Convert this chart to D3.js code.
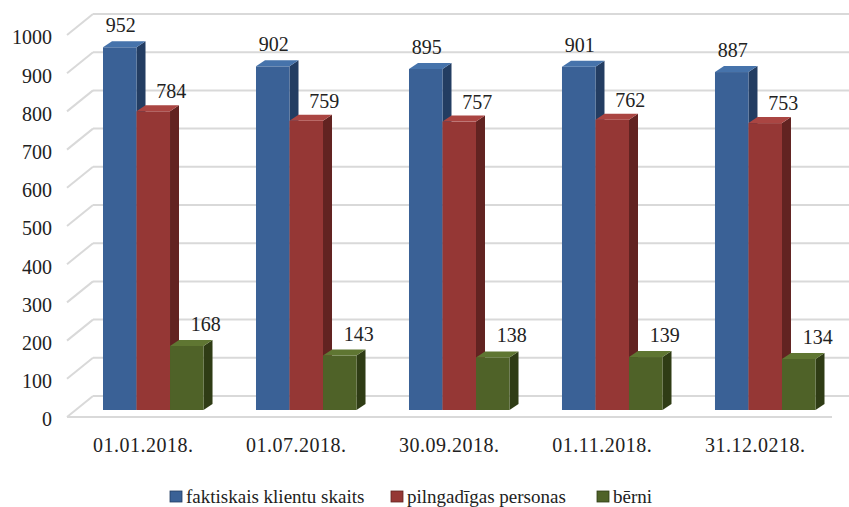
<!DOCTYPE html>
<html>
<head>
<meta charset="utf-8">
<script src="https://cdn.jsdelivr.net/npm/d3@7"></script>
<style>
  body { margin: 0; background: #fff; }
  svg text { fill: #222; }
</style>
</head>
<body>
<div id="graph"></div>
<script>
const categories = ["01.01.2018.", "01.07.2018.", "30.09.2018.", "01.11.2018.", "31.12.0218."];
const series = ["faktiskais klientu skaits", "pilngadīgas personas", "bērni"];
const totalClients = [952, 902, 895, 901, 887];
const adults = [784, 759, 757, 762, 753];
const children = [168, 143, 138, 139, 134];
const yTicks = [0, 100, 200, 300, 400, 500, 600, 700, 800, 900, 1000];

const values = [totalClients, adults, children];
const front = ["#3a6196", "#953735", "#4f6228"];
const side = ["#233d62", "#622321", "#2f3c15"];
const top_ = ["#4673ab", "#aa4542", "#5f7632"];
// vērtību etiķešu nobīde pa labi katrai sērijai
const labelShift = [1, 18, 19];
const FONT = "'Liberation Serif', 'DejaVu Serif', serif";

const width = 849, height = 507;
const svg = d3.select("#graph").append("svg")
    .attr("width", width)
    .attr("height", height)
    .attr("font-family", FONT);

// 3 plaknes: aizmugurējā siena, stabiņu plakne, priekšējā mala
const yBack = d3.scaleLinear().domain([0, 1000]).range([396, 14]);
const yBar = d3.scaleLinear().domain([0, 1000]).range([410, 29]);
const yFront = d3.scaleLinear().domain([0, 1000]).range([417, 35]);

const x = d3.scaleBand().domain(categories).range([76.75, 841.75])
    .paddingInner(0.343).paddingOuter(0.1716);
const xs = d3.scaleBand().domain(series).range([0, x.bandwidth()]);

const depthX = 9, depthY = 6;

// sienas režģis
const grid = svg.append("g").attr("stroke", "#d9d9d9").attr("stroke-width", 2).attr("fill", "none");
yTicks.forEach(t => {
    grid.append("line")
        .attr("x1", 93).attr("x2", width)
        .attr("y1", yBack(t)).attr("y2", yBack(t));
    grid.append("line")
        .attr("x1", 67).attr("x2", 93)
        .attr("y1", yFront(t)).attr("y2", yBack(t));
});
grid.append("line").attr("x1", 67).attr("x2", 832)
    .attr("y1", yFront(0)).attr("y2", yFront(0));

// Y ass
const yAxis = svg.append("g")
    .attr("transform", "translate(55,2.5)")
    .call(d3.axisLeft(yFront).tickValues(yTicks).tickFormat(d3.format("d")).tickSize(0).tickPadding(3));
yAxis.attr("font-family", FONT).attr("font-size", 20);
yAxis.select(".domain").remove();

// stabiņi
categories.forEach((c, i) => {
    series.forEach((s, j) => {
        const v = values[j][i];
        const x0 = x(c) + xs(s), w = xs.bandwidth();
        const y0 = yBar(v), y1 = yBar(0);
        const g = svg.append("g");
        g.append("path")
            .attr("d", `M${x0 + w},${y0} L${x0 + w + depthX},${y0 - depthY} L${x0 + w + depthX},${y1 - depthY} L${x0 + w},${y1} Z`)
            .attr("fill", side[j]);
        g.append("rect")
            .attr("x", x0).attr("y", y0)
            .attr("width", w).attr("height", y1 - y0)
            .attr("fill", front[j]);
        g.append("path")
            .attr("d", `M${x0},${y0} L${x0 + depthX},${y0 - depthY} L${x0 + w + depthX},${y0 - depthY} L${x0 + w},${y0} Z`)
            .attr("fill", top_[j]);
        g.append("text")
            .attr("x", x0 + w / 2 + labelShift[j])
            .attr("y", y0 - (j === 1 ? 13 : 15))
            .attr("text-anchor", "middle")
            .attr("font-size", 20)
            .text(v);
    });
});

// X ass
const xAxis = svg.append("g")
    .attr("transform", "translate(-10,430)")
    .call(d3.axisBottom(x).tickSize(0).tickPadding(8));
xAxis.attr("font-family", FONT).attr("font-size", 20);
xAxis.selectAll("text").attr("letter-spacing", 0.5);
xAxis.select(".domain").remove();

// leģenda
const legendX = [170, 391, 597];
const legend = svg.append("g");
series.forEach((s, j) => {
    legend.append("rect")
        .attr("x", legendX[j]).attr("y", 491)
        .attr("width", 12).attr("height", 11)
        .attr("fill", front[j])
        .attr("stroke", side[j]).attr("stroke-width", 0.8);
    legend.append("text")
        .attr("x", legendX[j] + 16)
        .attr("y", 503)
        .attr("font-size", 19)
        .text(s);
});
</script>
</body>
</html>
